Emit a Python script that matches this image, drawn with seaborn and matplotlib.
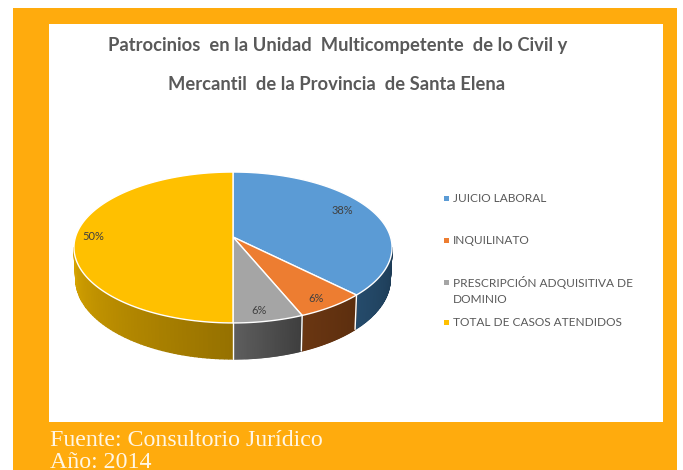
import numpy as np
import seaborn as sns
import matplotlib.pyplot as plt
from matplotlib.patches import Rectangle

titulo = ['Patrocinios  en la Unidad  Multicompetente  de lo Civil y',
          'Mercantil  de la Provincia  de Santa Elena']
categorias = ['JUICIO LABORAL', 'INQUILINATO',
              'PRESCRIPCIÓN ADQUISITIVA DE\nDOMINIO', 'TOTAL DE CASOS ATENDIDOS']
casos = [6, 1, 1, 8]
etiquetas = ['38%', '6%', '6%', '50%']
fuente = ['Fuente: Consultorio Jurídico', 'Año: 2014']

colores = ['#5B9BD5', '#ED7D31', '#A5A5A5', '#FFC000']
lados = [('#254B6B', '#1C3A54'), ('#6A3612', '#5C2E0E'),
         ('#5E5E5E', '#3E3E3E'), ('#D6A300', '#967100')]

sns.set_theme(style='white')
plt.rcParams['font.family'] = ['Lato', 'DejaVu Sans']

NARANJA = '#FFAB0D'
GRIS = '#595959'
K = 0.139

fig = plt.figure(figsize=(6.83, 4.7), dpi=100)
ax = fig.add_axes([0, 0, 1, 1])
ax.set_xlim(0, 683)
ax.set_ylim(470, 0)
ax.axis('off')

ax.add_patch(Rectangle((13, 8), 664, 462, color=NARANJA, lw=0))
ax.add_patch(Rectangle((49, 24), 614, 398, color='white', lw=0))


# circulo -> pantalla con perspectiva (arriba mas lejos que abajo)
def proyectar(ang, r=1.0, prof=0.0):
    u = r * np.sin(ang)
    v = r * np.cos(ang)
    w = 1 + K * v
    return 233 + (157.5 - prof * 0.06) * u / w, 237 - 74 * v / w + prof / w


fracc = np.array(casos) / sum(casos)
fines = np.cumsum(fracc) * 2 * np.pi
inicios = fines - fracc * 2 * np.pi

# cara lateral: solo la parte que mira hacia abajo
for ini, fin, par in zip(inicios, fines, lados):
    a0 = max(ini, np.pi / 2 + K)
    a1 = min(fin, 3 * np.pi / 2 - K)
    if a1 <= a0:
        continue
    pasos = np.linspace(a0, a1, 61)
    # el angulo crece hacia la izquierda, el tono va de izquierda a derecha
    tonos = sns.blend_palette(par, len(pasos) - 1)[::-1]
    for p0, p1, c in zip(pasos[:-1], pasos[1:], tonos):
        xa, ya = proyectar(np.array([p0, p1]))
        xb, yb = proyectar(np.array([p1, p0]), prof=31)
        ax.fill(np.r_[xa, xb], np.r_[ya, yb], color=c, lw=1.0)

# separadores entre porciones en el lateral
for ini in inicios:
    if np.pi / 2 < ini < 3 * np.pi / 2:
        x0, y0 = proyectar(ini)
        x1, y1 = proyectar(ini, prof=31)
        ax.plot([x0, x1], [y0, y1], color='white', lw=1.0)

# cara superior
for ini, fin, c in zip(inicios, fines, colores):
    ang = np.linspace(ini, fin, 120)
    x, y = proyectar(ang)
    xc, yc = proyectar(0.0, r=0.0)
    ax.fill(np.r_[xc, x], np.r_[yc, y], facecolor=c, edgecolor='white', lw=1.0)

pos_etiquetas = [(342, 210), (316, 298), (259, 310), (93, 237)]
for (x, y), txt in zip(pos_etiquetas, etiquetas):
    ax.text(x, y, txt, fontsize=8, color='#404040', ha='center', va='center')

ax.text(338, 46, titulo[0], fontsize=13.2, fontweight='bold', color=GRIS, ha='center', va='center')
ax.text(337, 85, titulo[1], fontsize=13.2, fontweight='bold', color=GRIS, ha='center', va='center')

# leyenda
pos_leyenda = [198, 240, 282, 322]
for y, txt, c in zip(pos_leyenda, categorias, colores):
    ax.add_patch(Rectangle((444, y - 2.5), 5, 5, color=c, lw=0))
    ax.text(453, y + 0.5, txt.split('\n')[0], fontsize=8.6, color=GRIS, ha='left', va='center')
    if '\n' in txt:
        ax.text(453, y + 17.5, txt.split('\n')[1], fontsize=8.6, color=GRIS, ha='left', va='center')

ax.text(50, 440, fuente[0], fontsize=17.2, color='#FFF6E4', family='Liberation Serif', ha='left', va='center')
ax.text(50, 463, fuente[1], fontsize=17.2, color='#FFF6E4', family='Liberation Serif', ha='left', va='center')

fig.savefig('out.png', dpi=100)
